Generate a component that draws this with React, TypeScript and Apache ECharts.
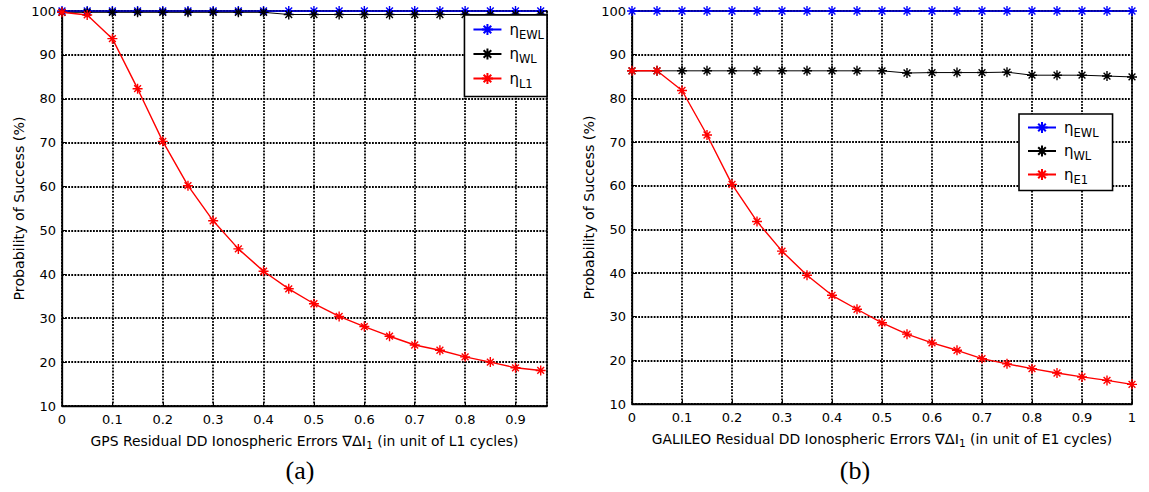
import React, { useEffect, useRef } from "react";
import * as echarts from "echarts";

const xsA = [0, 0.05, 0.1, 0.15, 0.2, 0.25, 0.3, 0.35, 0.4, 0.45, 0.5, 0.55, 0.6, 0.65, 0.7, 0.75, 0.8, 0.85, 0.9, 0.95];
const ewlA = [100, 100, 100, 100, 100, 100, 100, 100, 100, 100, 100, 100, 100, 100, 100, 100, 100, 100, 100, 100];
const wlA = [99.7, 99.7, 99.7, 99.7, 99.7, 99.7, 99.7, 99.7, 99.7, 99.2, 99.2, 99.2, 99.2, 99.2, 99.2, 99.2, 99.2, 99.2, 99.2, 99.2];
const l1A = [99.7, 99.1, 93.7, 82.3, 70.3, 60.2, 52.2, 45.8, 40.7, 36.7, 33.3, 30.4, 28.1, 25.9, 23.9, 22.7, 21.2, 20.0, 18.7, 18.1];

const xsB = [0, 0.05, 0.1, 0.15, 0.2, 0.25, 0.3, 0.35, 0.4, 0.45, 0.5, 0.55, 0.6, 0.65, 0.7, 0.75, 0.8, 0.85, 0.9, 0.95, 1.0];
const ewlB = [100, 100, 100, 100, 100, 100, 100, 100, 100, 100, 100, 100, 100, 100, 100, 100, 100, 100, 100, 100, 100];
const wlB = [86.3, 86.3, 86.3, 86.3, 86.3, 86.3, 86.3, 86.3, 86.3, 86.3, 86.3, 85.8, 85.9, 85.9, 85.9, 86.0, 85.3, 85.3, 85.3, 85.1, 84.9];
const e1B = [86.3, 86.3, 81.8, 71.6, 60.3, 51.8, 45.0, 39.5, 34.9, 31.7, 28.6, 26.0, 24.0, 22.3, 20.4, 19.2, 18.1, 17.1, 16.2, 15.4, 14.5];

const yTicks = [10, 20, 30, 40, 50, 60, 70, 80, 90, 100];
const xNameA = "GPS Residual DD Ionospheric Errors ";
const xNameB = "GALILEO Residual DD Ionospheric Errors ";
const yName = "Probability of Success (%)";

const FONT = "'DejaVu Sans', 'Liberation Sans', Arial, sans-serif";
const STAR = "path://M5,0L5,10M0,5L10,5M1.6,1.6L8.4,8.4M1.6,8.4L8.4,1.6";

const pairs = (xs: number[], ys: number[]) => xs.map((x, i) => [x, ys[i]]);

const legendNames: Record<string, string> = {
  "ηEWL": "{g|η}{s|EWL}",
  "ηWL": "{g|η}{s|WL}",
  "ηL1": "{g|η}{s|L1}",
  "ηE1": "{g|η}{s|E1}",
};

export default function App() {
  const ref = useRef<HTMLDivElement>(null);
  useEffect(() => {
    if (!ref.current) return;
    const chart = echarts.init(ref.current, null, { renderer: "svg" });

    const axisCommon = {
      axisLine: { show: true, lineStyle: { color: "#000", width: 1.3 } },
      axisTick: { show: true, inside: true, length: 4, lineStyle: { color: "#000" } },
      splitLine: { show: true, lineStyle: { color: "#000", width: 1.8, type: [1.8, 1.3] } },
      axisLabel: { color: "#000", fontSize: 13, fontFamily: FONT, margin: 6 },
    };

    const xAxis = (idx: number, max: number, name: string) => ({
      ...axisCommon,
      type: "value",
      gridIndex: idx,
      min: 0,
      max,
      interval: 0.1,
      name: `${name}{n|∇ΔI}{s|1} (in unit of ${idx === 0 ? "L1" : "E1"} cycles)`,
      nameLocation: "middle",
      nameGap: 25,
      nameTextStyle: {
        color: "#000",
        fontSize: 13.9,
        fontFamily: FONT,
        rich: {
          n: { fontSize: 14.5, fontFamily: FONT, color: "#000" },
          s: { fontSize: 10.5, fontFamily: FONT, color: "#000", padding: [8, 0, 0, 0] },
        },
      },
      axisLabel: { ...axisCommon.axisLabel, showMaxLabel: idx === 1, margin: 7 },
    });

    const yAxis = (idx: number) => ({
      ...axisCommon,
      type: "value",
      gridIndex: idx,
      min: yTicks[0],
      max: yTicks[yTicks.length - 1],
      interval: 10,
      name: yName,
      nameLocation: "middle",
      nameGap: 36,
      nameTextStyle: { color: "#000", fontSize: 14.2, fontFamily: FONT },
    });

    const mk = (name: string, color: string, data: number[][], idx: number, width: number) => ({
      type: "line",
      name,
      xAxisIndex: idx,
      yAxisIndex: idx,
      data,
      symbol: STAR,
      symbolSize: 10,
      lineStyle: { color, width },
      itemStyle: { color, borderColor: color, borderWidth: 1.4 },
      emphasis: { disabled: true },
    });

    const legendText = {
      color: "#000",
      fontFamily: FONT,
      fontSize: 13,
      rich: {
        g: { fontSize: 15, fontFamily: FONT, color: "#000", padding: [0, 0, 0, 3] },
        s: { fontSize: 11.5, fontFamily: FONT, color: "#000", padding: [10, 0, 0, 0] },
      },
    };

    chart.setOption({
      animation: false,
      backgroundColor: "#fff",
      grid: [
        { left: 62, top: 11, width: 485, height: 395, show: true, borderColor: "#000", borderWidth: 1.3, backgroundColor: "transparent" },
        { left: 632, top: 11, width: 500, height: 393, show: true, borderColor: "#000", borderWidth: 1.3, backgroundColor: "transparent" },
      ],
      xAxis: [xAxis(0, 0.9625, xNameA), xAxis(1, 1, xNameB)],
      yAxis: [yAxis(0), yAxis(1)],
      legend: [
        {
          data: ["ηEWL", "ηWL", "ηL1"],
          orient: "vertical",
          right: 602,
          top: 15,
          itemWidth: 28,
          itemHeight: 14,
          itemGap: 6,
          padding: [7, 3, 7, 8],
          backgroundColor: "#fff",
          borderColor: "#000",
          borderWidth: 1.6,
          borderRadius: 0,
          selectedMode: false,
          formatter: (n: string) => legendNames[n],
          textStyle: legendText,
        },
        {
          data: ["ηEWL", "ηWL", "ηE1"],
          orient: "vertical",
          left: 1019,
          top: 114,
          itemWidth: 28,
          itemHeight: 14,
          itemGap: 5,
          padding: [6, 14, 5, 8],
          backgroundColor: "#fff",
          borderColor: "#000",
          borderWidth: 1.6,
          borderRadius: 0,
          selectedMode: false,
          formatter: (n: string) => legendNames[n],
          textStyle: legendText,
        },
      ],
      graphic: [
        { type: "text", x: 300, y: 470, style: { text: "(a)", font: "26px 'Liberation Serif', 'Times New Roman', serif", fill: "#000", textAlign: "center", textVerticalAlign: "middle" } },
        { type: "text", x: 855, y: 470, style: { text: "(b)", font: "26px 'Liberation Serif', 'Times New Roman', serif", fill: "#000", textAlign: "center", textVerticalAlign: "middle" } },
      ],
      series: [
        mk("ηEWL", "#0000ff", pairs(xsA, ewlA), 0, 1.7),
        mk("ηWL", "#000000", pairs(xsA, wlA), 0, 1),
        mk("ηL1", "#ff0000", pairs(xsA, l1A), 0, 1.4),
        mk("ηEWL", "#0000ff", pairs(xsB, ewlB), 1, 1.7),
        mk("ηWL", "#000000", pairs(xsB, wlB), 1, 1),
        mk("ηE1", "#ff0000", pairs(xsB, e1B), 1, 1.4),
      ],
    });
    return () => chart.dispose();
  }, []);
  return (
    <div
      ref={ref}
      style={{ position: "fixed", left: 0, top: 0, width: 1149, height: 492, background: "#fff" }}
    />
  );
}
